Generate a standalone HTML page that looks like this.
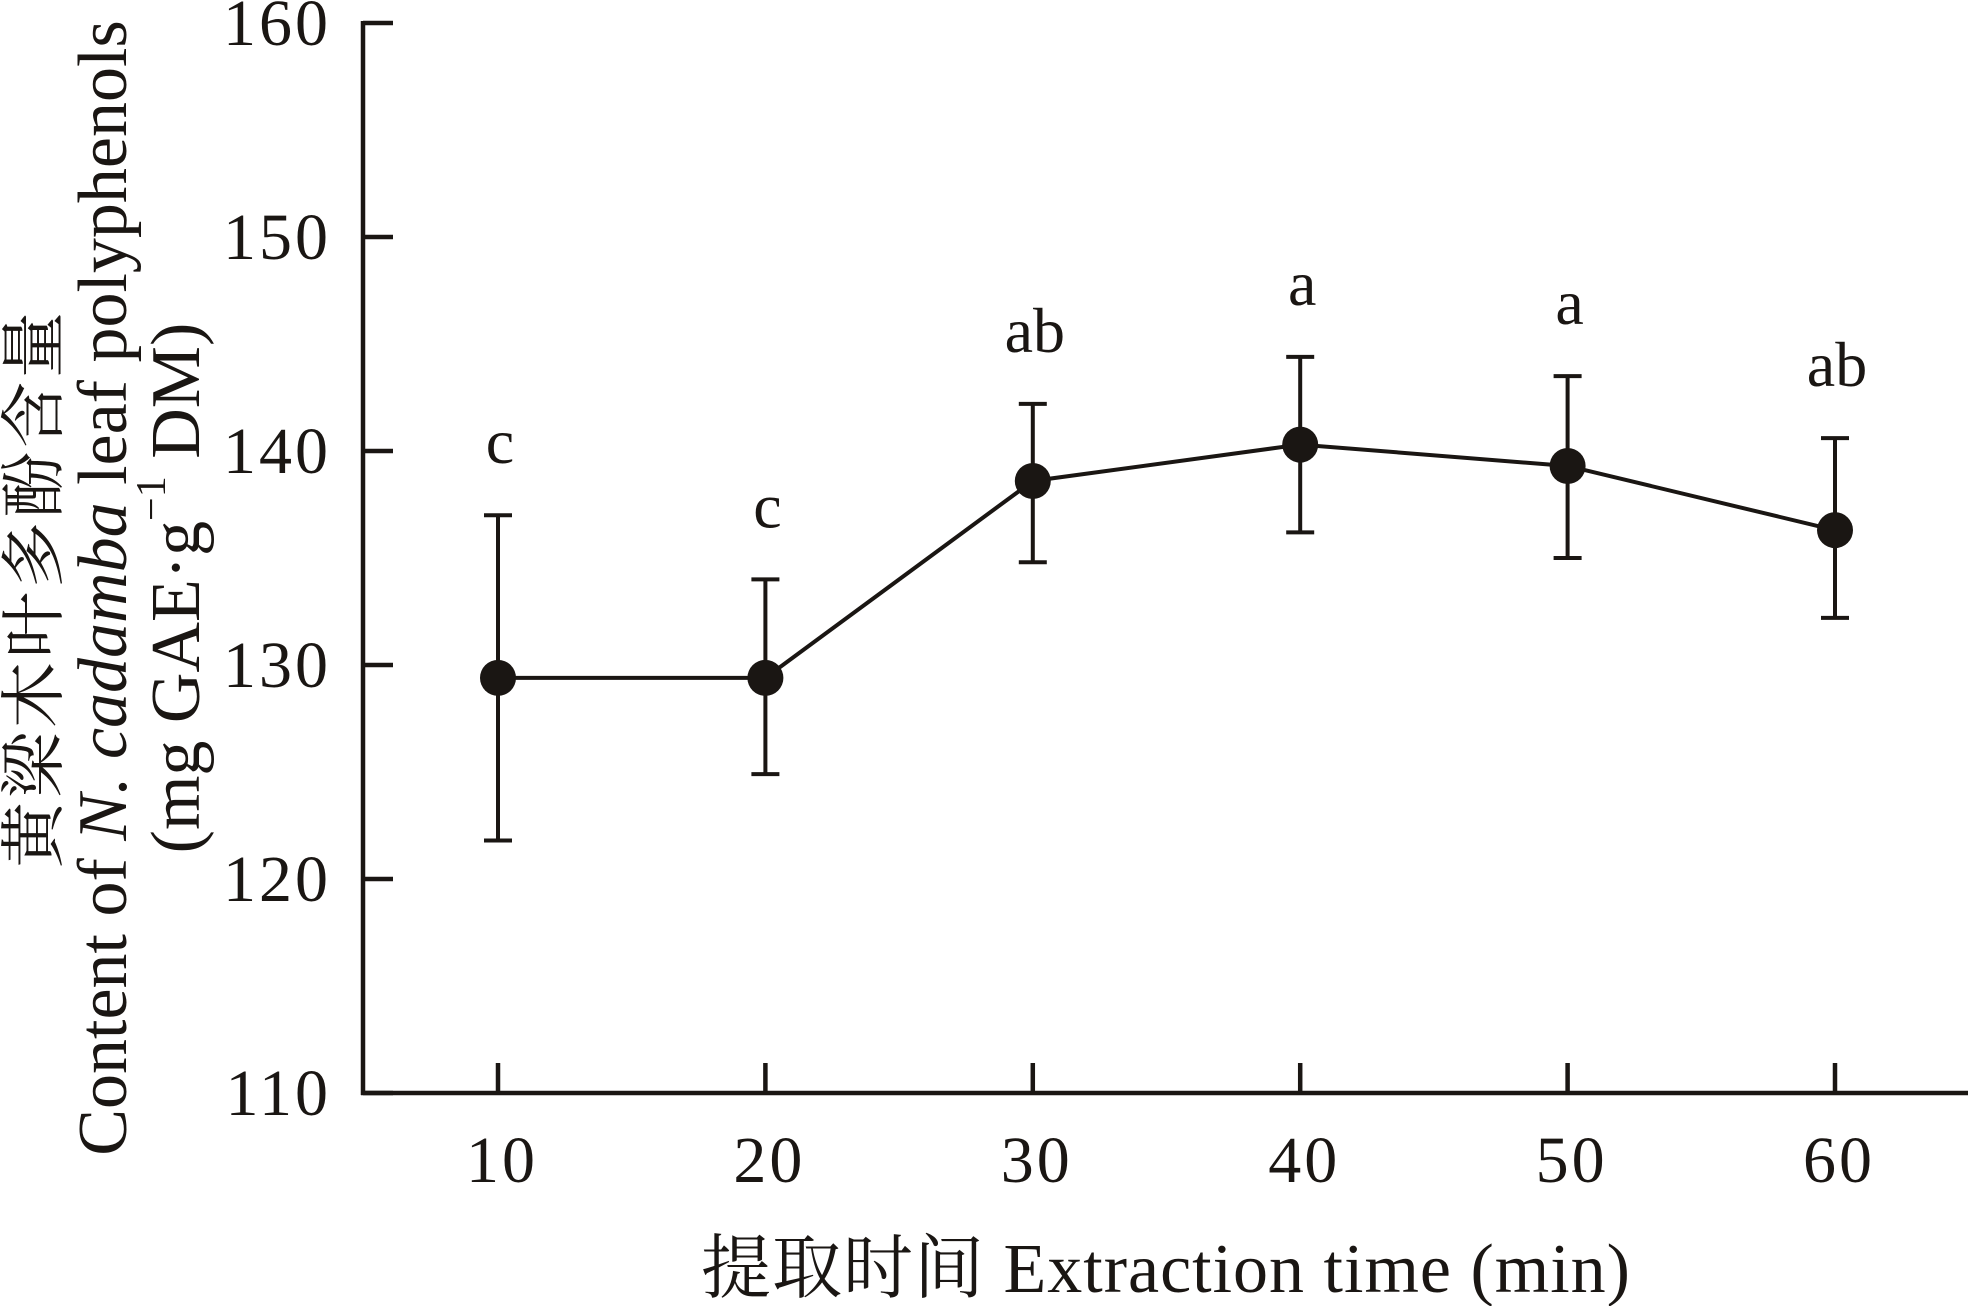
<!DOCTYPE html>
<html><head><meta charset="utf-8"><style>
html,body{margin:0;padding:0;background:#fff;}
svg{display:block;font-family:"Liberation Serif","Noto Serif CJK SC",serif;}
</style></head><body>
<svg id="chart" width="1972" height="1306" viewBox="0 0 1972 1306"></svg>
<script>
const categories = [10, 20, 30, 40, 50, 60];
const means = [129.4, 129.4, 138.6, 140.3, 139.3, 136.3];
const errUpper = [137.0, 134.0, 142.2, 144.4, 143.5, 140.6];
const errLower = [121.8, 124.9, 134.8, 136.2, 135.0, 132.2];
const letters = ["c", "c", "ab", "a", "a", "ab"];
const yTicks = [110, 120, 130, 140, 150, 160];

const NS = "http://www.w3.org/2000/svg";
const svg = document.getElementById("chart");
const X0 = 363, XEND = 1968, Y0 = 1093, YTOP = 23;
const col = "#1a1613";
function xScale(v){ return 498 + (v - 10) * 26.74; }
function yScale(v){ return Y0 - (v - 110) * (Y0 - YTOP) / 50; }
function mk(tag, attrs, parent){
  const e = document.createElementNS(NS, tag);
  for (const k in attrs) e.setAttribute(k, attrs[k]);
  (parent || svg).appendChild(e);
  return e;
}

const yAxis = mk("line", {x1:X0, y1:YTOP-2, x2:X0, y2:Y0+2, stroke:col, "stroke-width":4.5});


const xAxis = mk("line", {x1:X0-2, y1:Y0, x2:XEND, y2:Y0, stroke:col, "stroke-width":4.5});



yTicks.forEach(t => {
  const y = yScale(t);
  const tk = mk("line", {x1:X0, y1:y, x2:X0+30, y2:y, stroke:col, "stroke-width":4.5});
  
  
  const lb = mk("text", {x:331, y:y+22, "text-anchor":"end", "font-size":66, "letter-spacing":3, fill:col});
  lb.textContent = t;
  
  
});
categories.forEach(c => {
  const x = xScale(c);
  const tk = mk("line", {x1:x, y1:Y0, x2:x, y2:Y0-30, stroke:col, "stroke-width":4.5});
  
  
  const lb = mk("text", {x:x+4, y:1182, "text-anchor":"middle", "font-size":66, "letter-spacing":3, fill:col});
  lb.textContent = c;
  
  
});

const pts = categories.map((c,i) => xScale(c) + "," + yScale(means[i])).join(" ");
const line = mk("polyline", {points:pts, fill:"none", stroke:col, "stroke-width":4});



categories.forEach((c,i) => {
  const x = xScale(c);
  const yt = yScale(errUpper[i]), yb = yScale(errLower[i]);
  const g = mk("g", {});
  
  
  mk("line", {x1:x, y1:yt, x2:x, y2:yb, stroke:col, "stroke-width":4}, g);
  mk("line", {x1:x-14, y1:yt, x2:x+14, y2:yt, stroke:col, "stroke-width":4}, g);
  mk("line", {x1:x-14, y1:yb, x2:x+14, y2:yb, stroke:col, "stroke-width":4}, g);
  const p = mk("circle", {cx:x, cy:yScale(means[i]), r:18, fill:col});
  
  
  const t = mk("text", {x:x+2, y:yt-52, "text-anchor":"middle", "font-size":64, fill:col});
  t.textContent = letters[i];
  
  
});

const xt = mk("text", {x:1166, y:1292, "text-anchor":"middle", "font-size":70, "letter-spacing":1, fill:col});
xt.textContent = "提取时间 Extraction time (min)";



const titleLines = [35, 103, 176];
titleLines.forEach((lx, i) => {
  const t = mk("text", {transform:"translate(" + lx + ",588) rotate(-90)", "text-anchor":"middle", "dominant-baseline":"central", "font-size":70, fill:col});
  if (i === 0) {
    t.setAttribute("font-size", 66);
    t.setAttribute("letter-spacing", 4);
    t.textContent = "黄梁木叶多酚含量";
    
  }
  if (i === 1) {
    
    const a = mk("tspan", {}, t); a.textContent = "Content of ";
    const b = mk("tspan", {"font-style":"italic"}, t); b.textContent = "N. cadamba";
    const c = mk("tspan", {}, t); c.textContent = " leaf polyphenols";
  }
  if (i === 2) {
    
    const a = mk("tspan", {}, t); a.textContent = "(mg GAE·g";
    const b = mk("tspan", {"font-size":42, dy:-24}, t); b.textContent = "−1";
    const c = mk("tspan", {dy:24}, t); c.textContent = " DM)";
  }
  
});
</script>
</body></html>
